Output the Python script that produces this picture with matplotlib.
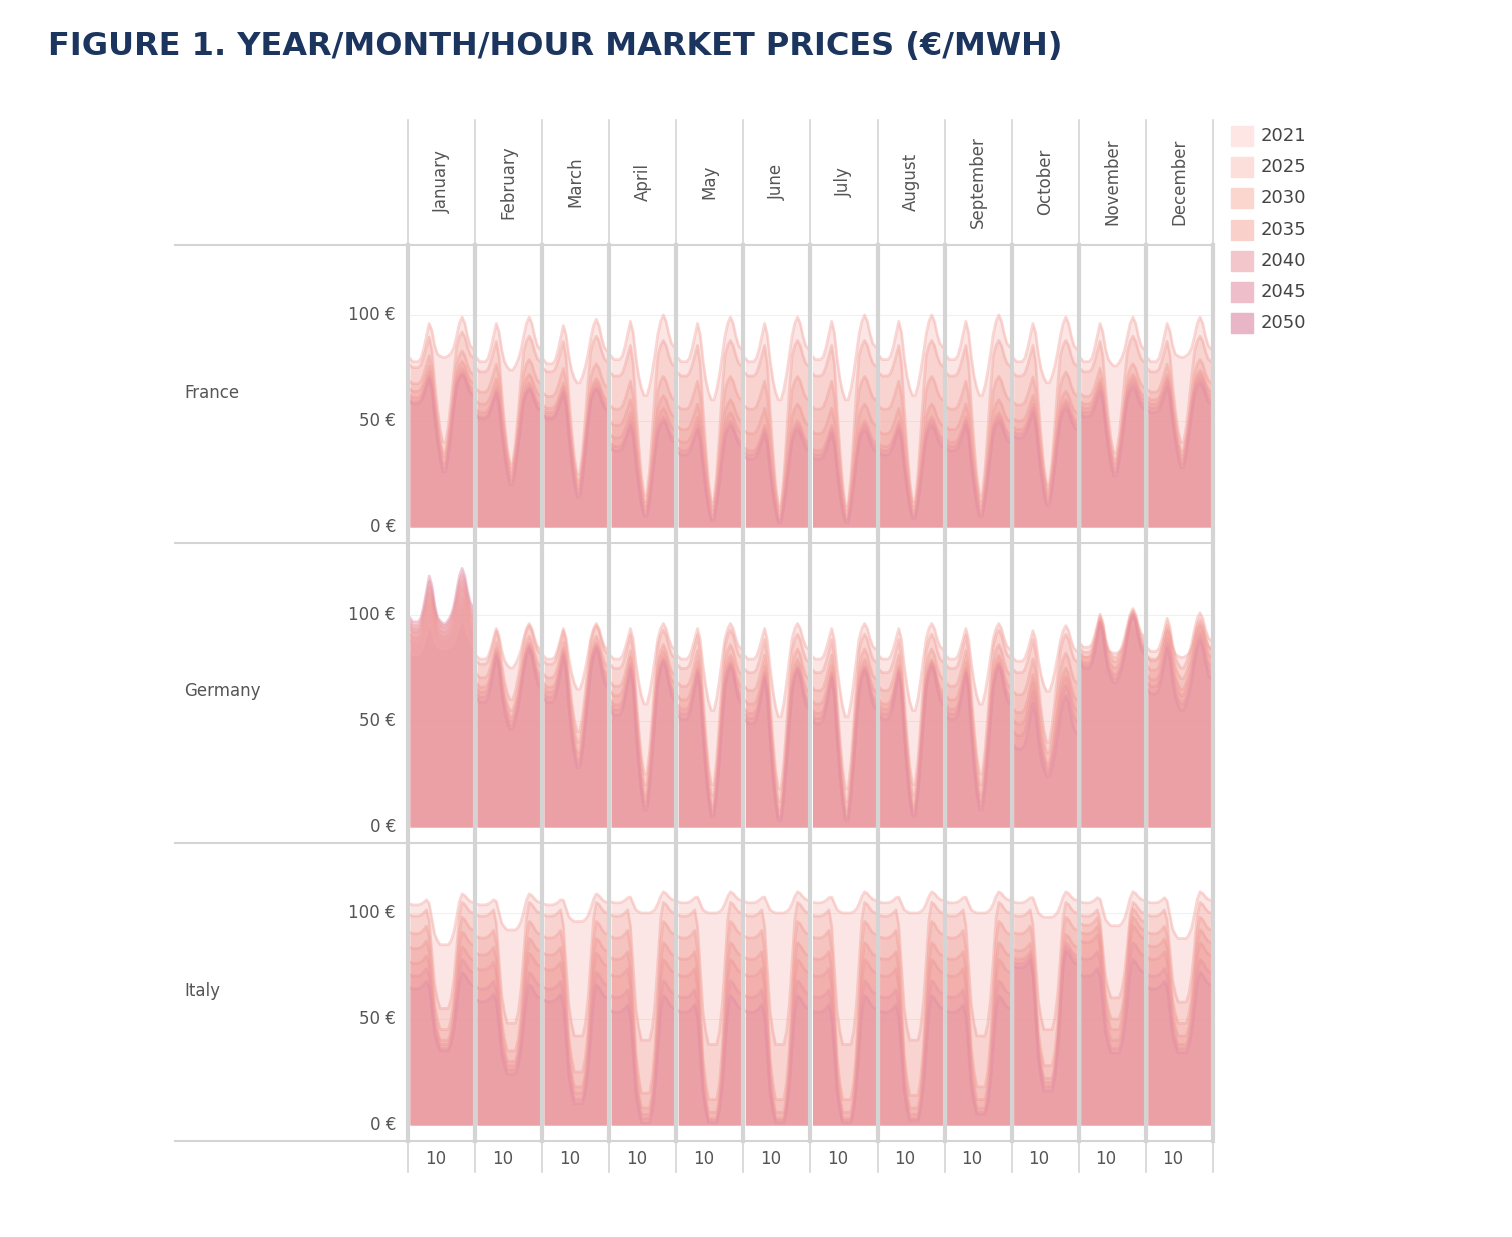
import matplotlib
matplotlib.use("Agg")
import matplotlib.pyplot as plt
from matplotlib.lines import Line2D
from matplotlib.patches import Rectangle
import numpy as np

months = ["January", "February", "March", "April", "May", "June", "July",
          "August", "September", "October", "November", "December"]
countries = ["France", "Germany", "Italy"]
years = [2021, 2025, 2030, 2035, 2040, 2045, 2050]
hours = list(range(1, 25))

# hourly shape templates (dip weight: 1 = midday minimum; peak weight: morning/evening peaks)
dip_vshape = [0, 0, 0, 0, 0, 0, 0, 0, .1, .35, .6, .85, 1, 1, .8, .5, .2, 0, 0, 0, 0, 0, 0, 0]
peak_vshape = [-.3, -.4, -.4, -.4, -.3, 0, .4, .8, .6, .2, 0, 0, 0, 0, 0, 0, .1, .4, .8, 1, .8, .4, .1, 0]
dip_ushape = [0, 0, 0, 0, 0, 0, 0, .15, .45, .75, .9, 1, 1, 1, 1, .9, .7, .4, .1, 0, 0, 0, 0, 0]
peak_ushape = [-.2, -.3, -.3, -.3, -.2, 0, .3, .6, .3, 0, 0, 0, 0, 0, 0, 0, 0, .2, .6, 1, .8, .4, .1, 0]

# plateau level per month (€/MWh)
france_level = {
    2021: [84, 84, 83, 85, 84, 84, 85, 85, 85, 84, 84, 84],
    2025: [80, 78, 78, 76, 76, 76, 76, 76, 76, 76, 78, 78],
    2030: [72, 68, 66, 60, 60, 60, 60, 60, 60, 62, 66, 68],
    2035: [68, 62, 60, 52, 50, 48, 48, 48, 50, 54, 62, 64],
    2040: [65, 58, 58, 46, 44, 40, 40, 42, 44, 50, 60, 62],
    2045: [63, 56, 56, 42, 40, 38, 38, 40, 42, 48, 58, 60],
    2050: [62, 55, 55, 40, 38, 36, 36, 38, 40, 46, 56, 58],
}
france_low = {
    2021: [80, 74, 68, 62, 60, 60, 60, 62, 62, 68, 76, 80],
    2025: [40, 30, 25, 15, 12, 10, 10, 12, 15, 20, 35, 40],
    2030: [35, 28, 22, 12, 10, 8, 8, 10, 12, 18, 32, 36],
    2035: [33, 26, 20, 10, 8, 6, 6, 8, 10, 16, 30, 34],
    2040: [30, 24, 18, 8, 6, 4, 4, 6, 8, 14, 28, 32],
    2045: [28, 22, 16, 6, 4, 3, 3, 5, 6, 12, 26, 30],
    2050: [26, 20, 14, 5, 3, 2, 2, 4, 5, 10, 24, 28],
}
france_peak = {2021: 15, 2025: 12, 2030: 11, 2035: 10, 2040: 10, 2045: 10, 2050: 10}

germany_level = {
    2021: [86, 84, 84, 84, 84, 84, 84, 84, 84, 83, 85, 84],
    2025: [92, 82, 82, 80, 80, 78, 78, 78, 80, 78, 90, 88],
    2030: [95, 76, 76, 72, 72, 70, 70, 70, 72, 68, 88, 84],
    2035: [98, 72, 72, 68, 66, 64, 64, 64, 66, 60, 86, 80],
    2040: [100, 70, 70, 64, 62, 60, 60, 62, 62, 55, 84, 76],
    2045: [102, 68, 68, 62, 60, 58, 58, 60, 60, 50, 83, 73],
    2050: [104, 66, 66, 60, 58, 56, 56, 58, 58, 44, 82, 70],
}
germany_low = {
    2021: [84, 75, 65, 58, 55, 52, 52, 55, 58, 64, 82, 80],
    2025: [88, 60, 45, 25, 20, 18, 18, 20, 25, 40, 80, 75],
    2030: [90, 55, 40, 20, 15, 12, 12, 15, 20, 35, 78, 70],
    2035: [92, 52, 35, 15, 10, 8, 8, 10, 15, 30, 75, 65],
    2040: [94, 50, 32, 12, 8, 5, 5, 8, 12, 28, 72, 62],
    2045: [95, 48, 30, 10, 6, 4, 4, 6, 10, 26, 70, 58],
    2050: [96, 46, 28, 8, 5, 3, 3, 5, 8, 24, 68, 55],
}
germany_peak = {2021: 12, 2025: 13, 2030: 14, 2035: 15, 2040: 16, 2045: 17, 2050: 18}

italy_level = {
    2021: [105, 105, 105, 106, 106, 106, 106, 106, 106, 106, 106, 106],
    2025: [100, 100, 100, 100, 100, 100, 100, 100, 100, 100, 100, 100],
    2030: [92, 90, 90, 90, 90, 90, 90, 90, 90, 92, 96, 92],
    2035: [85, 82, 82, 80, 80, 80, 80, 80, 80, 84, 92, 86],
    2040: [78, 75, 75, 72, 72, 72, 72, 72, 72, 80, 88, 80],
    2045: [72, 66, 66, 62, 62, 62, 62, 62, 62, 78, 80, 72],
    2050: [66, 60, 60, 55, 55, 55, 55, 55, 55, 76, 72, 66],
}
italy_low = {
    2021: [85, 92, 96, 100, 100, 100, 100, 100, 100, 98, 94, 88],
    2025: [55, 48, 42, 40, 38, 38, 38, 40, 42, 45, 60, 58],
    2030: [45, 35, 25, 15, 12, 12, 12, 14, 18, 28, 50, 48],
    2035: [40, 30, 18, 8, 6, 6, 6, 8, 12, 22, 45, 42],
    2040: [38, 28, 15, 5, 3, 3, 3, 5, 8, 20, 40, 38],
    2045: [36, 26, 12, 3, 2, 2, 2, 3, 6, 18, 36, 36],
    2050: [35, 24, 10, 1, 1, 1, 1, 2, 5, 16, 34, 34],
}
italy_peak = {2021: 4, 2025: 5, 2030: 6, 2035: 6, 2040: 6, 2045: 6, 2050: 6}

fill_colors = ["#f4a8a2", "#f3a39d", "#f29f98", "#f09b96", "#ee999a", "#e995a0", "#e28ea4"]
legend_colors = ["#fde6e3", "#fcdedb", "#fbd6cf", "#fad0cb", "#f3c6cc", "#efbecb", "#e9b6c8"]

tables = {
    "France": (france_level, france_low, france_peak, dip_vshape, peak_vshape),
    "Germany": (germany_level, germany_low, germany_peak, dip_vshape, peak_vshape),
    "Italy": (italy_level, italy_low, italy_peak, dip_ushape, peak_ushape),
}

W, H = 1512, 1237
fig = plt.figure(figsize=(W / 100, H / 100), dpi=100)
grey = "#d4d4d4"
txt = "#555555"


def fx(x):
    return x / W


def fy(y):
    return 1 - y / H


fig.text(fx(48), fy(47), "FIGURE 1. YEAR/MONTH/HOUR MARKET PRICES (€/MWH)",
         fontsize=23, fontweight="black", color="#1b355e", va="center", ha="left")

x0, x1 = 408, 1213
cw = (x1 - x0) / 12
row_tops = [245, 543, 843]
row_h = 298
zero_px = [527, 827, 1125]
px_per_eur = 2.12

for r, country in enumerate(countries):
    level, low, peak, dip_w, peak_w = tables[country]
    top = row_tops[r]
    bot = top + row_h
    ymin = -(bot - zero_px[r]) / px_per_eur
    ymax = (zero_px[r] - top) / px_per_eur
    for m in range(12):
        ax = fig.add_axes([fx(x0 + m * cw + 2), fy(bot), fx(cw - 4), row_h / H])
        ax.set_xlim(1, 24)
        ax.set_ylim(ymin, ymax)
        ax.axis("off")
        for v in (50, 100):
            ax.axhline(v, color="#f0f0f0", lw=0.8, zorder=0)
        for k, yr in enumerate(years):
            L, D, P = level[yr][m], low[yr][m], peak[yr]
            vals = [L + P * pw - (L - D) * dw for pw, dw in zip(peak_w, dip_w)]
            ax.fill_between(hours, 0, vals, color=fill_colors[k], alpha=0.28, lw=0, zorder=1 + k)
            ax.plot(hours, vals, color=fill_colors[k], alpha=0.45, lw=2, zorder=10 + k)
    fig.text(fx(184), fy(top + 148), country, fontsize=12, color=txt, va="center")
    for v in (0, 50, 100):
        fig.text(fx(396), fy(zero_px[r] - v * px_per_eur), f"{v} €", fontsize=12,
                 color=txt, va="center", ha="right")

# grid lines
for y in (245, 543, 843, 1141):
    fig.add_artist(Line2D([fx(175), fx(x1)], [fy(y), fy(y)], color=grey, lw=1.5))
for i in range(13):
    x = x0 + i * cw
    fig.add_artist(Line2D([fx(x), fx(x)], [fy(120), fy(245)], color=grey, lw=1.2))
    fig.add_artist(Line2D([fx(x), fx(x)], [fy(245), fy(1141)], color=grey, lw=3))
    fig.add_artist(Line2D([fx(x), fx(x)], [fy(1141), fy(1172)], color=grey, lw=1.2))

for m, name in enumerate(months):
    xc = x0 + (m + 0.5) * cw
    fig.text(fx(xc), fy(182), name, rotation=90, fontsize=12, color=txt,
             ha="center", va="center")
    fig.text(fx(x0 + m * cw + cw * 9 / 23 + 1), fy(1159), "10", fontsize=12, color=txt,
             ha="center", va="center")

# legend
for k, yr in enumerate(years):
    y = 136 + k * 31.2
    fig.add_artist(Rectangle((fx(1231), fy(y + 10)), fx(22), 20 / H, color=legend_colors[k]))
    fig.text(fx(1261), fy(y), str(yr), fontsize=13, color="#444444", va="center")

fig.savefig("out.png", dpi=100)
